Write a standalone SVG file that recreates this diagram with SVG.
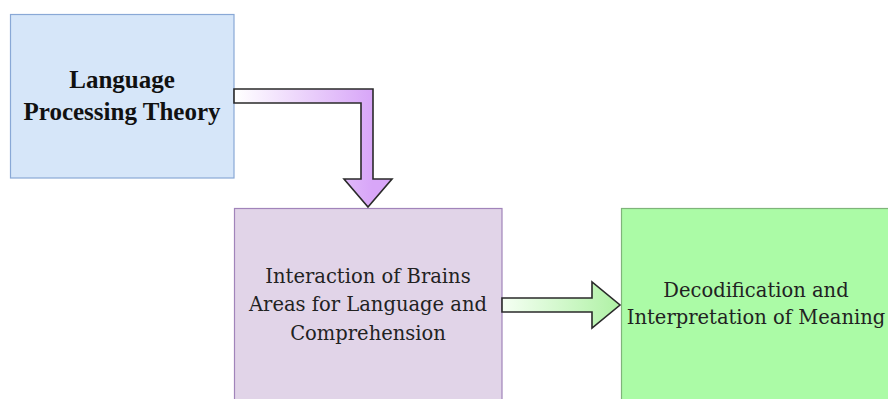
<svg xmlns="http://www.w3.org/2000/svg" width="888" height="399" viewBox="0 0 888 399">
<defs>
<linearGradient id="gPurple" gradientUnits="userSpaceOnUse" x1="236" y1="0" x2="372" y2="0">
<stop offset="0" stop-color="#ffffff"/>
<stop offset="1" stop-color="#d8a6f8"/>
</linearGradient>
<linearGradient id="gGreen" gradientUnits="userSpaceOnUse" x1="504" y1="0" x2="615" y2="0">
<stop offset="0" stop-color="#f4fff2"/>
<stop offset="1" stop-color="#b2f2a8"/>
</linearGradient>
<style>
.t1{font-family:"Liberation Serif",serif;font-weight:bold;font-size:25px;fill:#111;text-anchor:middle}
.t2{font-family:"DejaVu Serif",serif;font-size:19.5px;fill:#222;text-anchor:middle}
.arrow{stroke:#2a2a2a;stroke-width:1.6;stroke-linejoin:miter}
</style>
</defs>
<rect width="888" height="399" fill="#ffffff"/>
<g id="node-language-processing">
<rect x="10.5" y="14.5" width="223.5" height="163.5" fill="#d6e6f9" stroke="#89a8d6" stroke-width="1.2"/>
<text class="t1" x="122" y="88">Language</text>
<text class="t1" x="122" y="120">Processing Theory</text>
</g>
<g id="node-interaction">
<rect x="234.5" y="208.5" width="267.5" height="195" fill="#e1d4e8" stroke="#a184ba" stroke-width="1.2"/>
<text class="t2" x="368" y="283">Interaction of Brains</text>
<text class="t2" x="368" y="311">Areas for Language and</text>
<text class="t2" x="368" y="340">Comprehension</text>
</g>
<g id="node-decodification">
<rect x="621.5" y="208.5" width="270" height="195" fill="#abfba6" stroke="#7fb47a" stroke-width="1.2"/>
<text class="t2" x="756" y="297">Decodification and</text>
<text class="t2" x="756" y="324">Interpretation of Meaning</text>
</g>
<g id="connectors">
<path class="arrow" fill="url(#gPurple)" d="M234,89 L373,89 L373,179 L392,179 L368,207 L344,179 L361,179 L361,103 L234,103 Z"/>
<path class="arrow" fill="url(#gGreen)" d="M502,298 L592,298 L592,282 L620,305 L592,328 L592,312 L502,312 Z"/>
</g>
</svg>
